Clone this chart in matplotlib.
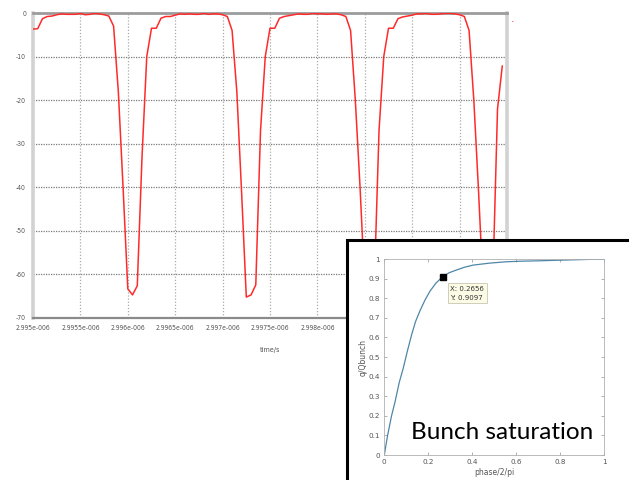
import numpy as np
import matplotlib
matplotlib.use("Agg")
import matplotlib.pyplot as plt
from matplotlib.patches import Rectangle

# ---- sampled voltage trace (one sample every 50 ps) ----
t_start = 2.995e-6
dt = 5e-11
voltage = [
    -3.7, -3.6, -1.3, -0.8, -0.7, -0.4, -0.2, -0.3, -0.3, -0.3, -0.1, -0.4, -0.3,
    -0.1, -0.2, -0.4, -0.7, -3.0, -18.0, -40.0, -63.3, -64.7, -62.6, -33.0, -10.0,
    -3.5, -3.5, -1.2, -0.8, -0.8, -0.5, -0.2, -0.3, -0.2, -0.3, -0.3, -0.1, -0.3,
    -0.2, -0.2, -0.4, -0.8, -4.0, -18.0, -41.0, -65.2, -64.7, -62.4, -27.0, -10.0,
    -3.5, -3.5, -1.2, -0.8, -0.6, -0.4, -0.2, -0.3, -0.3, -0.1, -0.2, -0.2, -0.3,
    -0.2, -0.2, -0.4, -0.8, -4.0, -20.0, -40.0, -63.0, -65.0, -62.5, -27.0, -10.0,
    -3.5, -3.5, -1.3, -0.9, -0.7, -0.5, -0.2, -0.2, -0.1, -0.3, -0.3, -0.2, -0.1,
    -0.1, -0.2, -0.4, -0.8, -4.0, -20.0, -41.0, -64.0, -65.0, -62.0, -22.0, -12.2,
]
time = t_start + dt * np.arange(len(voltage))

x_ticks = [2.995e-6, 2.9955e-6, 2.996e-6, 2.9965e-6, 2.997e-6, 2.9975e-6,
           2.998e-6, 2.9985e-6, 2.999e-6, 2.9995e-6, 3.0e-6]
x_tick_labels = ["2.995e-006", "2.9955e-006", "2.996e-006", "2.9965e-006",
                 "2.997e-006", "2.9975e-006", "2.998e-006", "2.9985e-006",
                 "2.999e-006", "2.9995e-006", "3e-006"]
y_ticks = [0, -10, -20, -30, -40, -50, -60, -70]
y_tick_labels = ["0", "-10", "-20", "-30", "-40", "-50", "-60", "-70"]

# ---- bunch saturation curve ----
phase = [0.0, 0.015, 0.033, 0.049, 0.068, 0.086, 0.105, 0.124, 0.142, 0.162,
         0.185, 0.208, 0.235, 0.2656, 0.295, 0.329, 0.365, 0.405, 0.48, 0.557,
         0.63, 0.709, 0.8, 0.9, 1.0]
charge = [0.0, 0.1, 0.2, 0.272, 0.37, 0.442, 0.53, 0.612, 0.68, 0.735,
          0.79, 0.836, 0.877, 0.9097, 0.93, 0.944, 0.958, 0.969, 0.979, 0.986,
          0.989, 0.991, 0.994, 0.997, 1.0]
tip_x, tip_y = 0.2656, 0.9097

W, H = 629, 480
fig = plt.figure(figsize=(W / 100, H / 100), dpi=100)
fig.patch.set_facecolor("white")

small = dict(family="DejaVu Sans", fontstretch="condensed", fontsize=4.9,
             color="#555555")

# ---- main axes ----
ax = fig.add_axes([33 / W, 1 - 318 / H, (507 - 33) / W, (318 - 13) / H])
ax.plot(time, voltage, color="#ff2a2a", lw=1.1, zorder=3)
ax.set_xlim(2.995e-6, 3.0e-6)
ax.set_ylim(-70, 0)
ax.set_xticks(x_ticks)
ax.set_xticklabels(x_tick_labels, **small)
ax.set_yticks(y_ticks)
ax.set_yticklabels(y_tick_labels, **small)
ax.tick_params(length=0, pad=5)
for yv in y_ticks[1:-1]:
    ax.axhline(yv, color="#7a7a7a", lw=0.9, ls=(0, (1, 1)), zorder=1)
for xv in x_ticks[1:-1]:
    ax.axvline(xv, color="#ababab", lw=0.9, ls=(0, (1, 1.5)), zorder=1)
ax.spines["top"].set_color("#9c9c9c")
ax.spines["top"].set_linewidth(2.0)
ax.spines["bottom"].set_color("#8a8a8a")
ax.spines["bottom"].set_linewidth(1.6)
ax.spines["left"].set_color("#d2d2d2")
ax.spines["left"].set_linewidth(2.6)
ax.spines["right"].set_color("#d2d2d2")
ax.spines["right"].set_linewidth(2.6)
ax.set_xlabel("time/s", family="DejaVu Sans", fontstretch="condensed",
              fontsize=5.2, color="#555555")
ax.xaxis.set_label_coords(0.5, -0.095)

# stray legend mark to the right of the plot
fig.text(513 / W, 1 - 22 / H, "·", color="#ff2a2a", fontsize=8,
         ha="center", va="center")

# ---- inset panel ----
panel = Rectangle((347 / W, -0.05), 0.5, (1 - 240 / H) + 0.05,
                  transform=fig.transFigure, facecolor="white",
                  edgecolor="black", lw=2.2, zorder=10)
fig.patches.append(panel)

ins = fig.add_axes([384.3 / W, 1 - 455 / H, (604 - 384.3) / W, (455 - 259) / H])
ins.set_zorder(11)
ins.plot(phase, charge, color="#4f86a8", lw=0.9)
ins.set_xlim(0, 1)
ins.set_ylim(0, 1)
ins.set_xticks([0, 0.2, 0.4, 0.6, 0.8, 1.0])
ins.set_xticklabels(["0", "0.2", "0.4", "0.6", "0.8", "1"])
ins.set_yticks([0, 0.1, 0.2, 0.3, 0.4, 0.5, 0.6, 0.7, 0.8, 0.9, 1.0])
ins.set_yticklabels(["0", "0.1", "0.2", "0.3", "0.4", "0.5", "0.6",
                     "0.7", "0.8", "0.9", "1"])
ins.tick_params(direction="in", length=2, width=0.5, color="#909090",
                labelsize=5.2, labelcolor="#555555", pad=3,
                top=True, right=True)
for s in ins.spines.values():
    s.set_color("#b0b0b0")
    s.set_linewidth(0.6)
ins.set_xlabel("phase/2/pi", fontsize=5.5, color="#555555", labelpad=2)
ins.set_ylabel("q/Qbunch", fontsize=5.5, color="#555555", labelpad=1)

ins.plot([tip_x], [tip_y], marker="s", ms=4.5, color="black", zorder=5)
ins.annotate(f"X: {tip_x}\nY: {tip_y}", xy=(tip_x, tip_y),
             xytext=(tip_x + 0.035, tip_y - 0.045), ha="left", va="top",
             fontsize=5, color="#333333", linespacing=1.6,
             bbox=dict(boxstyle="square,pad=0.4", fc="#fbfbe6", ec="#c8c8b0",
                       lw=0.6))
ins.text(0.538, 0.115, "Bunch saturation", transform=ins.transAxes,
         ha="center", va="center", fontsize=17.5, family="Lato", color="black")

fig.savefig("out.png", dpi=100)
